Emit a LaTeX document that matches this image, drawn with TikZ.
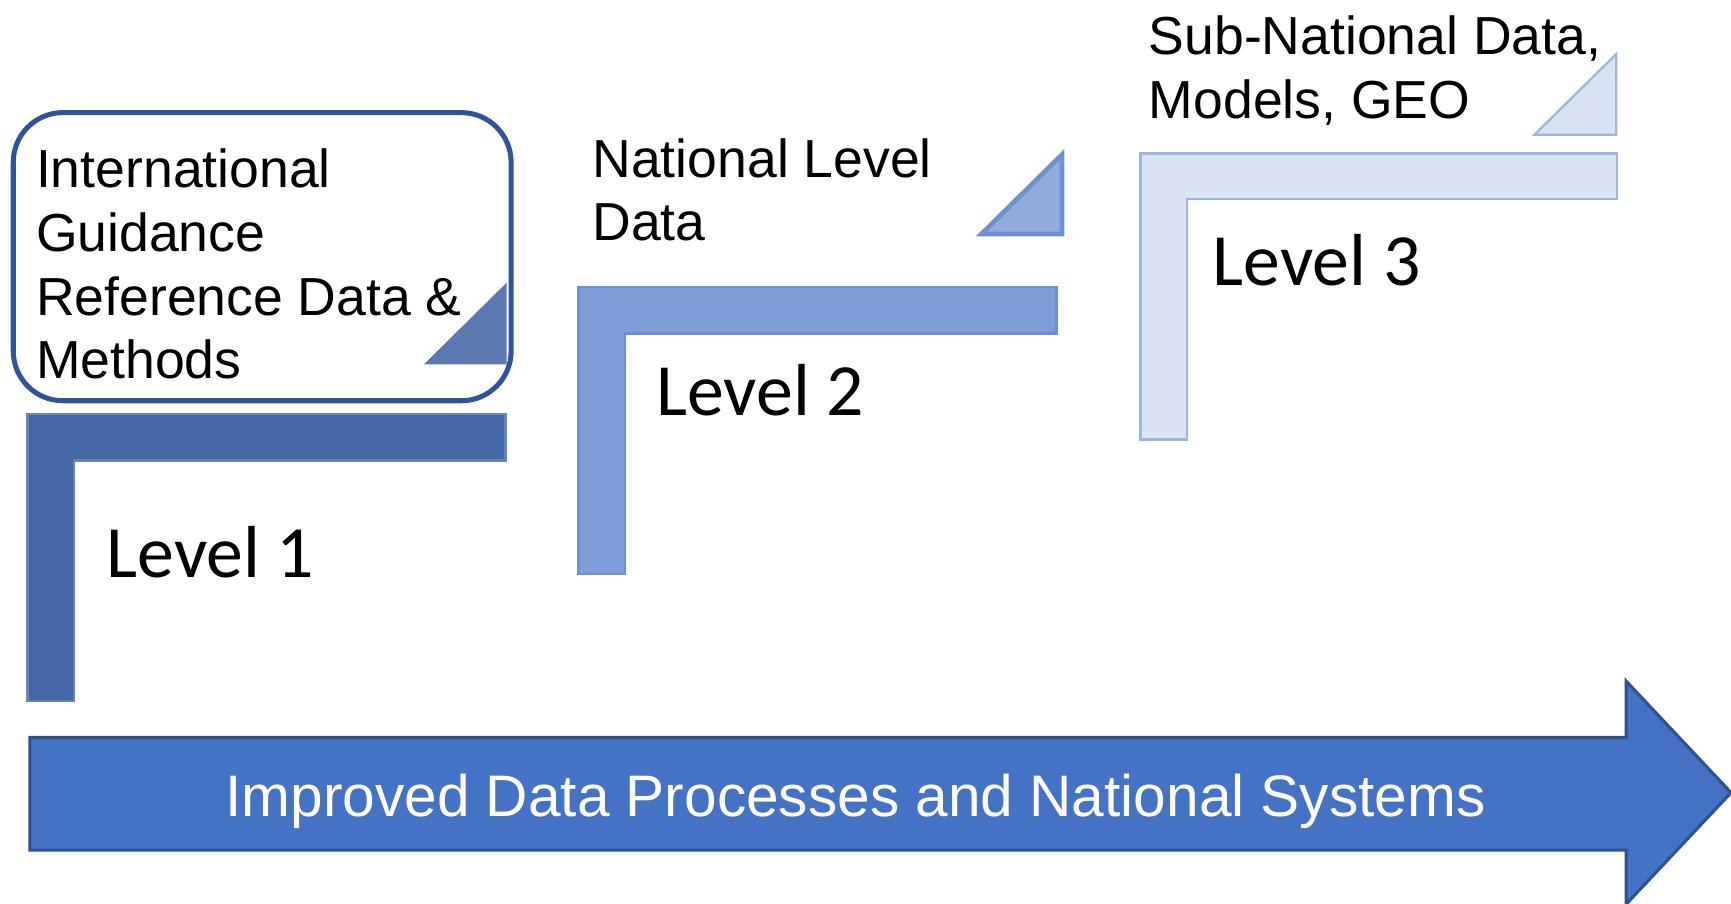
\documentclass[tikz,border=0pt]{standalone}
\usepackage{fontspec}
\setmainfont{Liberation Sans}
\newfontfamily\levelfont{Carlito}
\usepackage{xcolor}
\definecolor{level-one}{HTML}{4467A5}
\definecolor{level-two}{HTML}{7C9DD5}
\definecolor{level-two-line}{HTML}{6E90D0}
\definecolor{level-three}{HTML}{DAE3F3}
\definecolor{level-three-line}{HTML}{9DB5E1}
\definecolor{box-line}{HTML}{2F5597}
\definecolor{arrow-fill}{HTML}{4472C4}
\definecolor{arrow-line}{HTML}{2F528F}
\tikzset{
    step-text/.style = {anchor=base west, inner sep=0pt, align=left, font=\fontsize{13.8}{16.4}\selectfont},
    level-label/.style = {anchor=base west, inner sep=0pt, font=\levelfont\fontsize{19}{23}\selectfont},
    level-bar/.style = {line width=0.6pt, line join=miter},
}

\begin{document}
\begin{tikzpicture}[x=0.1mm, y=-0.1mm]
\useasboundingbox (0,0) rectangle (1568,818);
% level 1
\draw[box-line, line width=1.3pt, rounded corners=4.5mm] (12,102) rectangle (463,363);
\fill[level-one!88!white] (384,330) -- (459,330) -- (459,256) -- cycle;
\draw[level-bar, fill=level-one, draw=level-one!80!white] (25,635) -- (25,375) -- (458,375) -- (458,417) -- (67,417) -- (67,635) -- cycle;
% multi-line texts sit on their last line
\node[step-text] (intl) at (32,343) {International\\Guidance\\Reference Data \&\\Methods};
\node[level-label] (lvl-one) at (96,523) {Level 1};
% level 2
\draw[level-bar, fill=level-two!85!white, draw=level-two-line, line width=1.2pt] (889,212) -- (962,212) -- (962,140) -- cycle;
\draw[level-bar, fill=level-two, draw=level-two-line] (524,520) -- (524,260) -- (957,260) -- (957,302) -- (566,302) -- (566,520) -- cycle;
\node[step-text] (natl) at (536,218) {National Level\\Data};
\node[level-label] (lvl-two) at (594,376) {Level 2};
% level 3
\draw[level-bar, fill=level-three, draw=level-three-line] (1390,122) -- (1464,122) -- (1464,49) -- cycle;
\draw[level-bar, fill=level-three, draw=level-three-line] (1033,398) -- (1033,139) -- (1465,139) -- (1465,180) -- (1075,180) -- (1075,398) -- cycle;
\node[step-text] (subnatl) at (1040,107) {Sub-National Data,\\Models, GEO};
\node[level-label] (lvl-three) at (1098,259) {Level 3};
% arrow
\draw[fill=arrow-fill, draw=arrow-line, line width=0.8pt] (27,668) -- (1473,668) -- (1473,617) -- (1568,718) -- (1473,819) -- (1473,770) -- (27,770) -- cycle;
\node[anchor=base, inner sep=0pt, text=white, font=\fontsize{15.1}{19}\selectfont] (improved) at (775,740) {Improved Data Processes and National Systems};
\end{tikzpicture}
\end{document}
